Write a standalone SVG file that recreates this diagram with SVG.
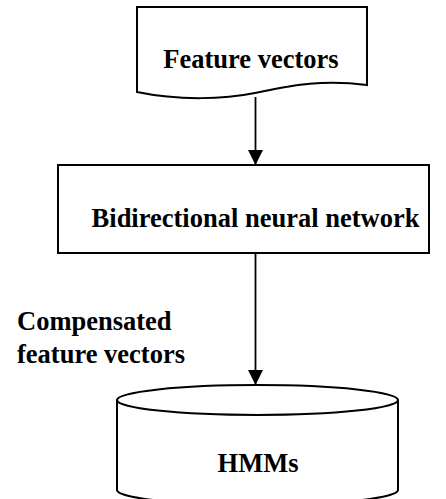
<svg xmlns="http://www.w3.org/2000/svg" width="446" height="499" viewBox="0 0 446 499">
<style>
.s{fill:#fff;stroke:#000;stroke-width:2}
.t{font-family:"Liberation Serif","Times New Roman",serif;font-weight:bold;font-size:26.5px;fill:#000}
.c{text-anchor:middle}
.l{stroke:#000;stroke-width:1.8;fill:none}
</style>
<defs>
<marker id="ah" markerWidth="16" markerHeight="16" refX="15" refY="8" orient="auto" markerUnits="userSpaceOnUse">
<path d="M0,0.5 L15,8 L0,15.5 Z" fill="#000"/>
</marker>
</defs>
<rect width="446" height="499" fill="#fff"/>
<g id="connectors">
<line class="l" x1="255.5" y1="97" x2="255.5" y2="165" marker-end="url(#ah)"/>
<line class="l" x1="255.5" y1="253" x2="255.5" y2="385" marker-end="url(#ah)"/>
</g>
<g id="feature-vectors">
<path class="s" d="M137,7 H367 V85 C320,79 290,86 255,93 C225,99 180,101 137,92 Z"/>
<text class="t c" x="251" y="68">Feature vectors</text>
</g>
<g id="bnn">
<rect class="s" x="58" y="165" width="371" height="88"/>
<text class="t c" x="255.5" y="227">Bidirectional neural network</text>
</g>
<g id="label">
<text class="t" x="17" y="330">Compensated</text>
<text class="t" x="17" y="363">feature vectors</text>
</g>
<g id="hmms">
<path class="s" d="M117,400 V490 A140.5,15 0 0 0 398,490 V400"/>
<ellipse class="s" cx="257.5" cy="400" rx="140.5" ry="15"/>
<text class="t c" x="258" y="472">HMMs</text>
</g>
</svg>
